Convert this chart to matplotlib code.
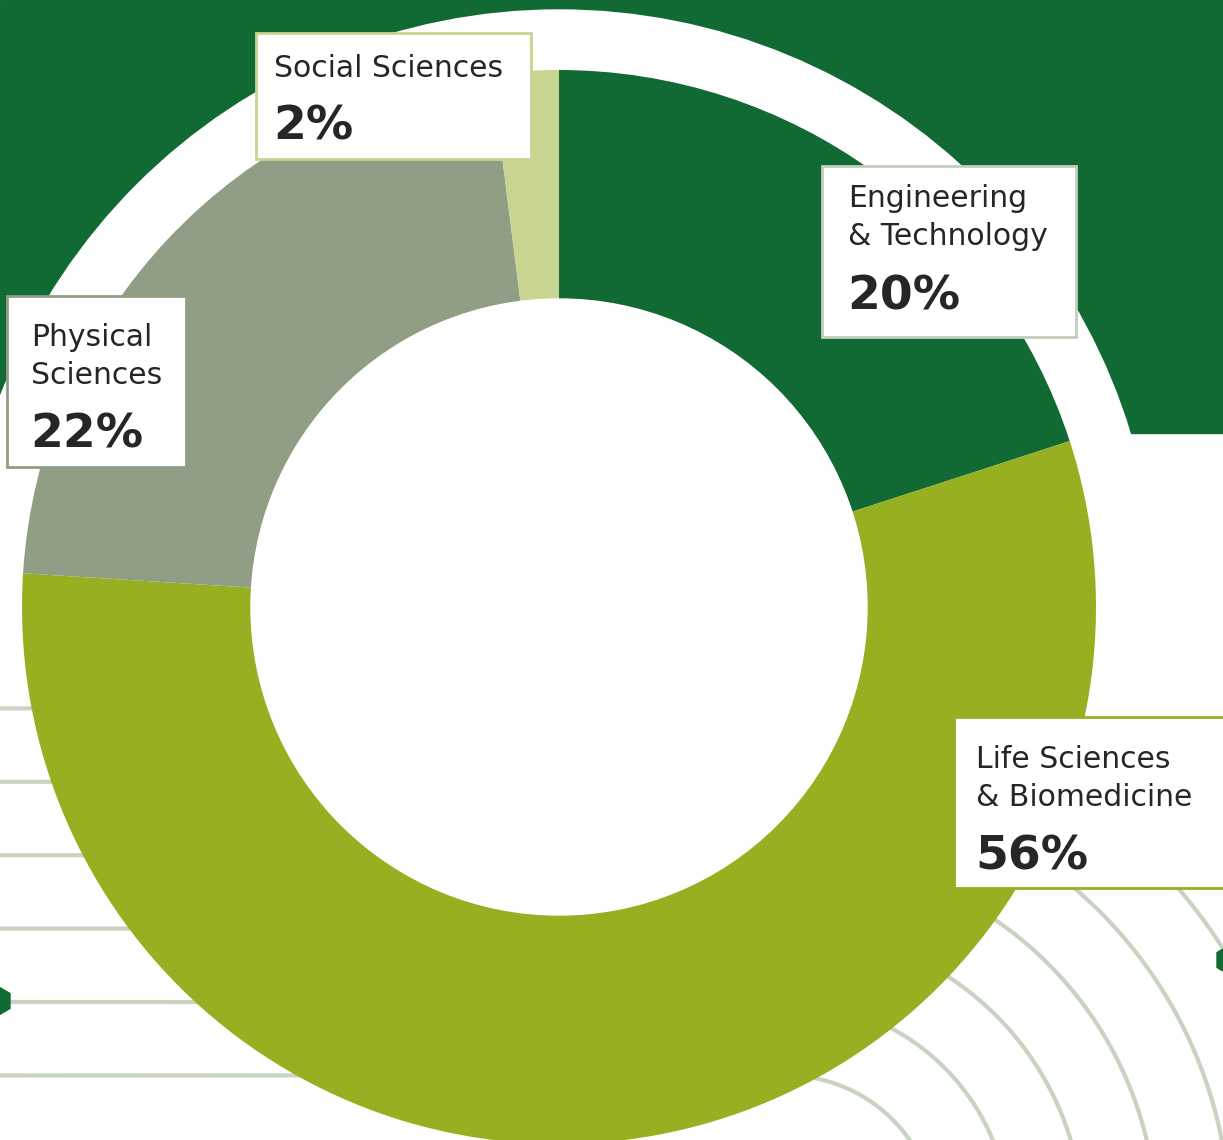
import numpy as np
import matplotlib.pyplot as plt
from matplotlib.patches import Circle, Rectangle, RegularPolygon

# datos del grafico
categorias = ["Engineering\n& Technology", "Life Sciences\n& Biomedicine",
              "Physical\nSciences", "Social Sciences"]
porcentajes = [20, 56, 22, 2]
colores = ["#116a33", "#97b022", "#909e85", "#c8d590"]
bordes = ["#c3cfbd", "#97b022", "#909e85", "#c8d590"]

W, H = 1223, 1140
verde = "#116a33"
gris_linea = "#c9d3c2"
texto = "#262626"

def py(y):
    """Convierte y en pixeles (desde arriba) a coordenadas de datos."""
    return H - y

fig = plt.figure(figsize=(W / 100, H / 100), dpi=100)
ax = fig.add_axes([0, 0, 1, 1])

cx, cy = 559, py(607)
R, ancho = 537, 229

# fondo verde superior y anillo blanco
ax.add_patch(Rectangle((0, py(433)), W, 433, color=verde, zorder=0))
ax.add_patch(Circle((cx, cy), 597, color="white", zorder=1))

# lineas decorativas: horizontal + cuarto de circulo
dcx, dcy = 786, py(1226)
radios = 150.6 + 73.4 * np.arange(6)
th = np.linspace(np.pi / 2, -0.3, 200)
for r in radios:
    xs = np.concatenate([[0], dcx + r * np.cos(th)])
    ys = np.concatenate([[dcy + r], dcy + r * np.sin(th)])
    ax.plot(xs, ys, color=gris_linea, lw=3, zorder=2, solid_capstyle="butt")

ax.add_patch(RegularPolygon((-3, py(1001)), 6, radius=15, color=verde, zorder=3))
ax.add_patch(RegularPolygon((1230, py(960)), 6, radius=15, color=verde, zorder=3))

# dona
wedges, _ = ax.pie(porcentajes, colors=colores, startangle=90, counterclock=False,
                   radius=R, center=(cx, cy), frame=True,
                   wedgeprops=dict(width=ancho, linewidth=0))
for w in wedges:
    w.set_zorder(4)
ax.add_patch(Circle((cx, cy), R - ancho, color="white", zorder=4))
ax.set_xlim(0, W)
ax.set_ylim(0, H)
ax.set_aspect("auto")
ax.axis("off")

# cajas de etiquetas: (x, y_top, ancho, alto, x_texto, y_base_nombre, y_base_pct)
cajas = [
    (822, 166, 254, 171, 848, 207, 309),
    (954, 717, 290, 171, 976, 768, 870),
    (7, 296, 179, 171, 31, 346, 447),
    (256, 33, 275, 126, 274, 77, 140),
]
for (bx, by, bw, bh, tx, ty, tp), nombre, p, ec in zip(cajas, categorias, porcentajes, bordes):
    ax.add_patch(Rectangle((bx, py(by + bh)), bw, bh, facecolor="white",
                           edgecolor=ec, lw=2, zorder=5))
    lineas = nombre.split("\n")
    for i, l in enumerate(lineas):
        ax.text(tx, py(ty + 38 * i), l, fontsize=21.5, family="DejaVu Sans",
                color=texto, ha="left", va="baseline", zorder=6)
    ax.text(tx - 1, py(tp), f"{p}%", fontsize=34, family="DejaVu Sans",
            fontweight="bold", color=texto, ha="left", va="baseline", zorder=6)

plt.savefig("out.png", dpi=100)
